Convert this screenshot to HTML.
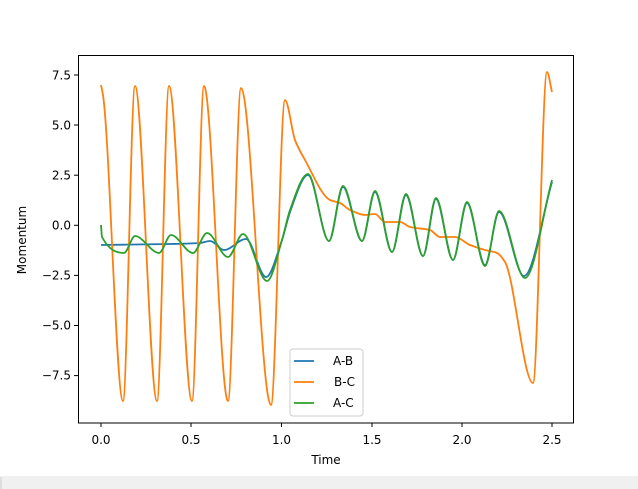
<!DOCTYPE html>
<html><head><style>
body{margin:0;background:#fff;width:638px;height:489px;overflow:hidden;font-family:"DejaVu Sans","Liberation Sans",sans-serif;}
</style></head><body>
<svg width="638" height="489" xmlns="http://www.w3.org/2000/svg" style="position:absolute;left:0;top:0">
<rect x="0" y="476" width="638" height="13" fill="#f0f0f0"/>
<line x1="1" y1="477" x2="1" y2="489" stroke="#ccc"/>
<g font-size="12" fill="#000">
<g stroke="#000">
<line x1="101" y1="423" x2="101" y2="427"/><line x1="191" y1="423" x2="191" y2="427"/><line x1="281.5" y1="423" x2="281.5" y2="427"/><line x1="372" y1="423" x2="372" y2="427"/><line x1="462" y1="423" x2="462" y2="427"/><line x1="552" y1="423" x2="552" y2="427"/>
<line x1="74" y1="75" x2="78" y2="75"/><line x1="74" y1="125" x2="78" y2="125"/><line x1="74" y1="175.2" x2="78" y2="175.2"/><line x1="74" y1="225.3" x2="78" y2="225.3"/><line x1="74" y1="275.4" x2="78" y2="275.4"/><line x1="74" y1="325.5" x2="78" y2="325.5"/><line x1="74" y1="375.6" x2="78" y2="375.6"/>
</g>
<g text-anchor="middle">
<text x="101" y="444">0.0</text><text x="191" y="444">0.5</text><text x="281.5" y="444">1.0</text><text x="372" y="444">1.5</text><text x="462" y="444">2.0</text><text x="552" y="444">2.5</text>
<text x="326" y="464">Time</text>
</g>
<g text-anchor="end">
<text x="71" y="79.5">7.5</text><text x="71" y="129.5">5.0</text><text x="71" y="179.5">2.5</text><text x="71" y="229.5">0.0</text><text x="71" y="279.5">−2.5</text><text x="71" y="329.5">−5.0</text><text x="71" y="379.5">−7.5</text>
</g>
<text transform="translate(26,240) rotate(-90)" text-anchor="middle">Momentum</text>
</g>
<g fill="none" stroke-width="1.8" stroke-linejoin="round">
<path id="b" stroke="#1f77b4"/>
<path id="o" stroke="#ff7f0e"/>
<path id="g" stroke="#2ca02c"/>
</g>
<rect x="78.5" y="55.5" width="495" height="367.5" fill="none" stroke="#000" stroke-width="1"/>
<rect x="290" y="349" width="73" height="67" rx="3" fill="#fff" fill-opacity="0.8" stroke="#ccc"/>
<line x1="294" y1="361" x2="314" y2="361" stroke="#1f77b4" stroke-width="1.8"/>
<line x1="294" y1="382" x2="314" y2="382" stroke="#ff7f0e" stroke-width="1.8"/>
<line x1="294" y1="403" x2="314" y2="403" stroke="#2ca02c" stroke-width="1.8"/>
<g font-size="12"><text x="333" y="365">A-B</text><text x="334" y="386">B-C</text><text x="333" y="407">A-C</text></g>
</svg>
<script>
function build(p){const n=p.length,d=[],m=new Array(n);
for(let i=0;i<n-1;i++)d.push((p[i+1][1]-p[i][1])/(p[i+1][0]-p[i][0]));
m[0]=d[0];m[n-1]=d[n-2];
for(let i=1;i<n-1;i++){if(d[i-1]*d[i]<=0)m[i]=0;else{const h0=p[i][0]-p[i-1][0],h1=p[i+1][0]-p[i][0];const w1=2*h1+h0,w2=h1+2*h0;m[i]=(w1+w2)/(w1/d[i-1]+w2/d[i]);}}
let s="M"+p[0][0]+","+p[0][1];
for(let i=0;i<n-1;i++){const h=p[i+1][0]-p[i][0];
s+=" C"+(p[i][0]+h/3).toFixed(2)+","+(p[i][1]+m[i]*h/3).toFixed(2)+" "+(p[i+1][0]-h/3).toFixed(2)+","+(p[i+1][1]-m[i+1]*h/3).toFixed(2)+" "+p[i+1][0]+","+p[i+1][1];}
return s;}
const o=[[101,85],[103,95],[123,401],[135,86],[157,401],[169,86],[192,401],[204,86],[228,401],[241,88],[271,405],[285,100],[295,140],[305,160],[330,200],[340,203],[350,210],[365,215],[375,214],[385,222],[400,222],[410,227],[430,230],[440,237],[455,237],[470,245],[485,250],[497,253],[505,262],[533,383],[547,72],[552,92]];
const g=[[101,225],[102,237],[124,253],[135,236],[159,253],[171,235],[193,253],[207,233],[228,257],[243,234],[267,281],[282,240],[290,210],[308,174],[329,241],[343,186],[362,241],[375,191],[392,252],[406,194],[423,256],[436,198],[453,260],[467,202],[485,266],[499,211],[525,278],[552,180]];
const b=[[101,245],[170,244],[200,243],[210,241],[224,250],[246,239],[266,277],[282,240],[290,212],[308,175],[329,241],[343,187],[362,241],[375,192],[392,252],[406,195],[423,256],[436,199],[453,260],[467,203],[485,265],[499,212],[524,276],[552,182]];
document.getElementById("o").setAttribute("d",build(o));
document.getElementById("g").setAttribute("d",build(g));
document.getElementById("b").setAttribute("d",build(b));
</script>
</body></html>
